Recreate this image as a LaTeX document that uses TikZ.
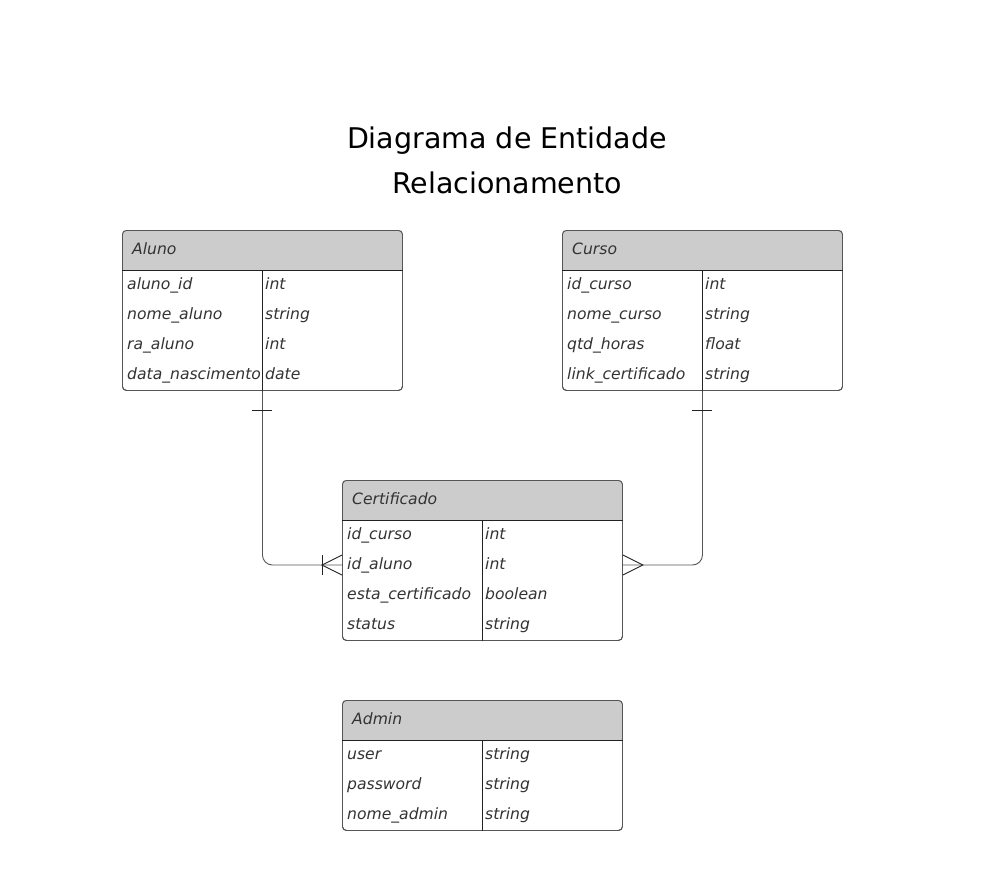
\documentclass[tikz,border=0pt]{standalone}
\usepackage{fontspec}
\setmainfont{DejaVu Sans}
\definecolor{hdr}{HTML}{CCCCCC}
\definecolor{txt}{HTML}{333333}
\definecolor{edge}{HTML}{555555}
\definecolor{dark}{HTML}{222222}
\tikzset{
  x=1pt, y=-1pt,
  tblbox/.style={draw=edge, line width=0.9pt, rounded corners=4pt, minimum width=280pt, inner sep=0pt},
  cell/.style={anchor=west, inner sep=0pt, text height=11.5pt, text depth=3pt, text=txt, font=\fontsize{15.6}{18}\selectfont\itshape},
  hcell/.style={cell},
  conn/.style={draw=edge, line width=0.9pt, rounded corners=10pt},
  endmark/.style={draw=dark, line width=0.9pt},
}
\newcommand{\ertable}[6]{%
  \node[tblbox, minimum height=#4pt, anchor=north west] (#1) at (#2,#3) {};
  \fill[hdr] ([yshift=-40pt]#1.north west) [rounded corners=4pt] -- (#1.north west) -- (#1.north east) [sharp corners] -- ([yshift=-40pt]#1.north east) -- cycle;
  \node[tblbox, minimum height=#4pt, anchor=north west] at (#2,#3) {};
  \draw[dark, line width=0.9pt] ([yshift=-40pt]#1.north west) -- ([yshift=-40pt]#1.north east);
  \draw[dark, line width=0.9pt] ([xshift=140pt,yshift=-40pt]#1.north west) -- ([xshift=140pt]#1.south west);
  \node[hcell] (#1-title) at ([xshift=10pt,yshift=-20pt]#1.north west) {#5};
  \foreach \a/\b [count=\i] in {#6} {
    \node[cell] (#1-a\i) at ([xshift=5pt,yshift={-25pt-30pt*\i}]#1.north west) {\a};
    \node[cell] (#1-b\i) at ([xshift=143pt,yshift={-25pt-30pt*\i}]#1.north west) {\b};
  }%
}
\begin{document}
\begin{tikzpicture}
\useasboundingbox[fill=white] (0,0) rectangle (992,880);
\node[text=black, font=\fontsize{28.5}{45}\selectfont, align=center] (title) at (507,160) {Diagrama de Entidade\\Relacionamento};

\ertable{aluno}{122}{230}{160}{Aluno}{aluno\_id/int, nome\_aluno/string, ra\_aluno/int, data\_nascimento/date}
\ertable{curso}{562}{230}{160}{Curso}{id\_curso/int, nome\_curso/string, qtd\_horas/float, link\_certificado/string}
\ertable{cert}{342}{480}{160}{Certificado}{id\_curso/int, id\_aluno/int, esta\_certificado/boolean, status/string}
\ertable{admin}{342}{700}{130}{Admin}{user/string, password/string, nome\_admin/string}

\coordinate (cl) at (cert.west |- cert-a2);
\coordinate (cr) at (cert.east |- cert-a2);
\draw[conn] (aluno.south) |- (cl);
\draw[conn] (curso.south) |- (cr);

% one mark at Aluno
\draw[endmark] ([xshift=-10pt,yshift=-20pt]aluno.south) -- ([xshift=10pt,yshift=-20pt]aluno.south);
% one mark at Curso
\draw[endmark] ([xshift=-10pt,yshift=-20pt]curso.south) -- ([xshift=10pt,yshift=-20pt]curso.south);
% one-or-many at Certificado (left)
\draw[endmark] ([yshift=10pt]cl) -- ([xshift=-20pt]cl) -- ([yshift=-10pt]cl);
\draw[endmark] ([xshift=-20pt,yshift=10pt]cl) -- ([xshift=-20pt,yshift=-10pt]cl);
% many at Certificado (right)
\draw[endmark] ([yshift=10pt]cr) -- ([xshift=20pt]cr) -- ([yshift=-10pt]cr);
\end{tikzpicture}
\end{document}
